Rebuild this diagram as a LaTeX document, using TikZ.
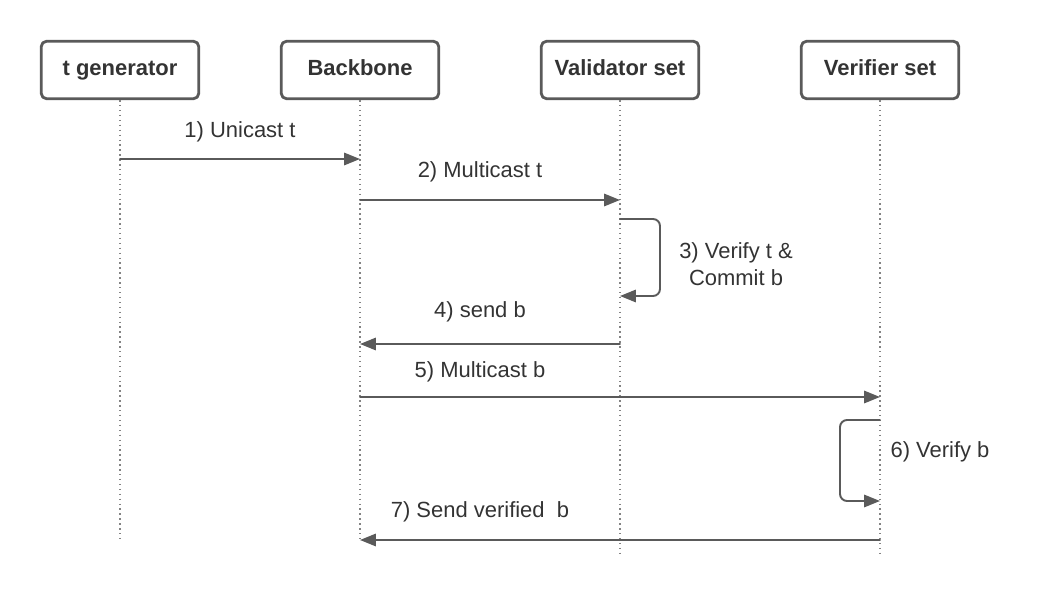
\documentclass[tikz,border=0pt]{standalone}
\usepackage{fontspec}
\setmainfont{Liberation Sans}
\usetikzlibrary{arrows.meta}
\definecolor{edgegray}{HTML}{5A5A5A}
\definecolor{textgray}{HTML}{333333}
\begin{document}
\begin{tikzpicture}[x=0.02cm,y=-0.02cm,line join=round,line cap=round,>={Triangle[length=9pt,width=7pt]},
	actor/.style={draw=edgegray,line width=1.6pt,rounded corners=3pt,fill=white,minimum width=3.15cm,minimum height=1.15cm,text height=9pt,text depth=2.5pt,text=textgray,font=\bfseries\fontsize{12.5}{15}\selectfont},
	msg/.style={draw=edgegray,line width=1.1pt,->},
	life/.style={draw=edgegray!75,dotted,line width=0.8pt,line cap=butt},
	lbl/.style={text=textgray,font=\fontsize{12.5}{15.5}\selectfont,align=center}]
		\useasboundingbox (0,0) rectangle (1060,597);
		% actors
		\node[actor] (tgen) at (120,70) {t generator};
		\node[actor] (bb) at (360,70) {Backbone};
		\node[actor] (val) at (620,70) {Validator set};
		\node[actor] (ver) at (880,70) {Verifier set};
		\coordinate (tgenEnd) at (120,540);
		\coordinate (bbEnd) at (360,542);
		\coordinate (valEnd) at (620,557);
		\coordinate (verEnd) at (880,557);
		\draw[life] (tgen.south) -- (tgenEnd);
		\draw[life] (bb.south) -- (bbEnd);
		\draw[life] (val.south) -- (valEnd);
		\draw[life] (ver.south) -- (verEnd);
		% messages
		\draw[msg] (tgen |- 0,159) -- (bb |- 0,159);
		\node[lbl] (l1) at (240,132) {1) Unicast t};
		\draw[msg] (bb |- 0,200) -- (val |- 0,200);
		\node[lbl] (l2) at (480,172) {2) Multicast t};
		\draw[msg,rounded corners=4pt] (val |- 0,219) -- (660,219) -- (660,296) -- (val |- 0,296);
		\node[lbl] (l3) at (736,264) {3) Verify t \&\\Commit b};
		\draw[msg] (val |- 0,344) -- (bb |- 0,344);
		\node[lbl] (l4) at (480,312) {4) send b};
		\draw[msg] (bb |- 0,397) -- (ver |- 0,397);
		\node[lbl] (l5) at (480,372) {5) Multicast b};
		\draw[msg,rounded corners=4pt] (ver |- 0,420) -- (840,420) -- (840,501) -- (ver |- 0,501);
		\node[lbl] (l6) at (940,452) {6) Verify b};
		\draw[msg] (ver |- 0,540) -- (bb |- 0,540);
		\node[lbl] (l7) at (480,512) {7) Send verified\ \ b};
\end{tikzpicture}
\end{document}
